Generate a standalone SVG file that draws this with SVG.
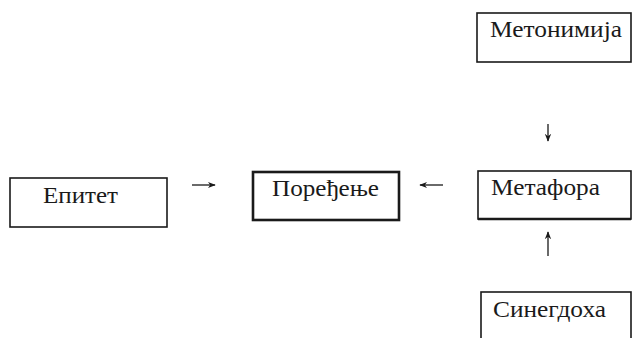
<svg xmlns="http://www.w3.org/2000/svg" width="633" height="338" viewBox="0 0 633 338">
<style>
.box{fill:#fff;stroke:#1a1a1a;stroke-width:1.6}
.thick{stroke-width:2.6}
.lbl{font-family:"Liberation Serif","Times New Roman",serif;font-size:24px;fill:#1a1a1a}
.conn{stroke:#1a1a1a;stroke-width:1.3;fill:none;marker-end:url(#ah)}
</style>
<defs>
<marker id="ah" viewBox="0 0 10 10" refX="9" refY="5" markerWidth="8" markerHeight="8" markerUnits="userSpaceOnUse" orient="auto">
<path d="M0,1 L10,5 L0,9 L3,5 Z" fill="#1a1a1a"/>
</marker>
</defs>
<rect width="633" height="338" fill="#fff"/>
<g id="metonimija">
<rect class="box" x="477" y="13" width="154" height="49"/>
<text class="lbl" x="490" y="37" textLength="132" lengthAdjust="spacingAndGlyphs">Метонимија</text>
</g>
<g id="epitet">
<rect class="box" x="10" y="178" width="157" height="49"/>
<text class="lbl" x="43" y="203" textLength="75" lengthAdjust="spacingAndGlyphs">Епитет</text>
</g>
<g id="poredjenje">
<rect class="box thick" x="253" y="172" width="146" height="48"/>
<text class="lbl" x="272" y="196" textLength="107" lengthAdjust="spacingAndGlyphs">Поређење</text>
</g>
<g id="metafora">
<rect class="box" x="478" y="171" width="153" height="48"/>
<line x1="478" y1="219" x2="631" y2="219" stroke="#1a1a1a" stroke-width="2.4"/>
<text class="lbl" x="491" y="195" textLength="109" lengthAdjust="spacingAndGlyphs">Метафора</text>
</g>
<g id="sinegdoha">
<rect class="box" x="481" y="292" width="150" height="60"/>
<text class="lbl" x="493" y="317" textLength="113" lengthAdjust="spacingAndGlyphs">Синегдоха</text>
</g>
<g id="connectors">
<path class="conn" d="M192,185 L215,185"/>
<path class="conn" d="M443,185 L420,185"/>
<path class="conn" d="M548,124 L548,141"/>
<path class="conn" d="M548,256 L548,232"/>
</g>
</svg>
